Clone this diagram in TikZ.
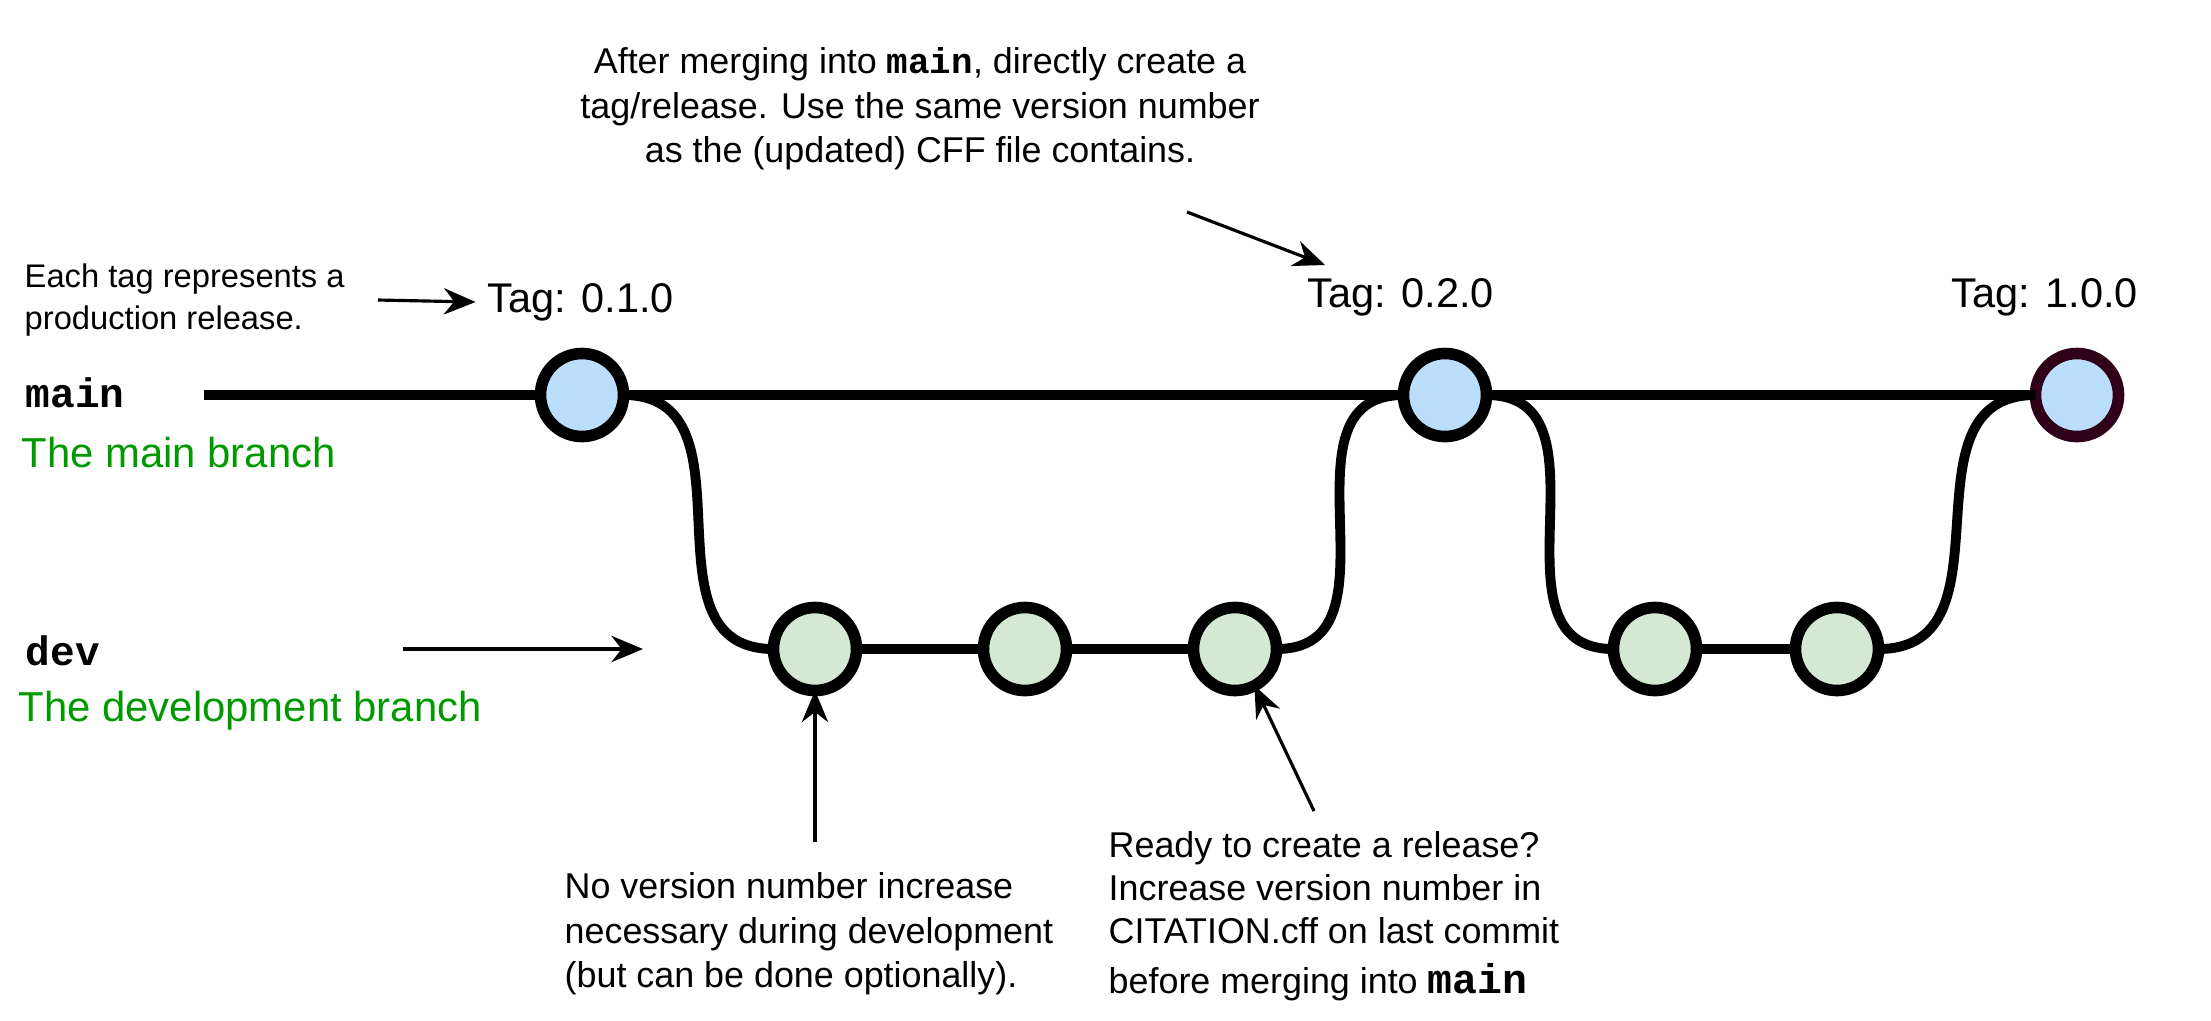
\documentclass[tikz,border=0pt]{standalone}
\usepackage{fontspec}
\setmainfont{Liberation Sans}
\setmonofont{Liberation Mono}
\usetikzlibrary{arrows.meta}
\definecolor{mainfill}{RGB}{186,222,252}
\definecolor{devfill}{RGB}{213,232,212}
\definecolor{lastedge}{RGB}{48,0,24}
\definecolor{branchgreen}{RGB}{0,153,0}

\begin{document}
\begin{tikzpicture}[x=0.01cm, y=-0.01cm,
				   commit/.style={circle, draw=black, line width=3.3pt, minimum size=0.83cm, inner sep=0pt, outer sep=0pt},
				   release/.style={commit, fill=mainfill},
				   work/.style={commit, fill=devfill},
				   branch/.style={line width=2.8pt},
				   pointer/.style={-{Stealth[length=9pt,width=7.5pt]}, line width=0.9pt},
				   tagtext/.style={font=\fontsize{11.8pt}{14pt}\selectfont},
				   branchname/.style={anchor=west, inner sep=0pt, font=\fontsize{11.7pt}{14pt}\selectfont\ttfamily\bfseries},
				   branchdesc/.style={anchor=west, inner sep=0pt, text=branchgreen, font=\fontsize{11.9pt}{14pt}\selectfont},
				   remark/.style={inner sep=0pt, font=\fontsize{10.2pt}{12.6pt}\selectfont}]
\useasboundingbox (0,0) rectangle (2211,1020);

% commits
\node[release] (c1) at (582,395) {};
\node[release] (c2) at (1445,395) {};
\node[release, draw=lastedge] (c3) at (2077,395) {};
\node[work] (d1) at (815,649) {};
\node[work] (d2) at (1025,649) {};
\node[work] (d3) at (1235,649) {};
\node[work] (d4) at (1655,649) {};
\node[work] (d5) at (1837,649) {};

% branches
\coordinate (start) at (204,395);
\draw[branch] (start) -- (c1) -- (c2) -- (c3);
\draw[branch] (d1) -- (d2) -- (d3);
\draw[branch] (d4) -- (d5);
\draw[branch] (c1) to[out=0, in=180, looseness=1.2] (d1);
\draw[branch] (d3) to[out=0, in=180, looseness=1.2] (c2);
\draw[branch] (c2) to[out=0, in=180, looseness=1.2] (d4);
\draw[branch] (d5) to[out=0, in=180, looseness=1.2] (c3);

% tags
\node[tagtext] (t1) at (581,302) {Tag: 0.1.0};
\node[tagtext] (t2) at (1401,297) {Tag: 0.2.0};
\node[tagtext] (t3) at (2045,297) {Tag: 1.0.0};

% branch names
\node[branchname] (mainname) at (25,393) {main};
\node[branchdesc] (maindesc) at (21,453) {The main branch};
\node[branchname] (devname) at (25,651) {dev};
\node[branchdesc] (devdesc) at (18,711) {The development branch};

% remarks
\node[remark, anchor=west, align=left, font=\fontsize{9.3pt}{11.9pt}\selectfont] (tagnote) at (24,300)
	{Each tag represents a\\production release.};
\node[remark, align=center] (mergenote) at (920,109)
	{After merging into \texttt{\bfseries main}, directly create a\\
	 tag/release. Use the same version number\\
	 as the (updated) CFF file contains.};
\node[remark, anchor=west, align=left] (devnote) at (564,934)
	{No version number increase\\
	 necessary during development\\
	 (but can be done optionally).};
\node[remark, anchor=west, align=left, font=\fontsize{10.2pt}{12.2pt}\selectfont] (readynote) at (1108,916)
	{Ready to create a release?\\
	 Increase version number in\\
	 CITATION.cff on last commit\\[2pt]
	 before merging into {\fontsize{11.8pt}{14pt}\selectfont\texttt{\bfseries main}}};

\coordinate (tagfrom) at (378,300);
\coordinate (mergefrom) at (1187,212);
\coordinate (mergeto) at (1325,265);
\coordinate (devfrom) at (403,649);
\coordinate (devto) at (643,649);
\coordinate (devnotetop) at (815,842);
\coordinate (readyfrom) at (1314,811);
\draw[pointer] (tagfrom) -- (t1.west);
\draw[pointer] (mergefrom) -- (mergeto);
\draw[pointer] (devfrom) -- (devto);
\draw[pointer] (devnotetop) -- (d1.south);
\draw[pointer] (readyfrom) -- (d3.-62);
\end{tikzpicture}
\end{document}
